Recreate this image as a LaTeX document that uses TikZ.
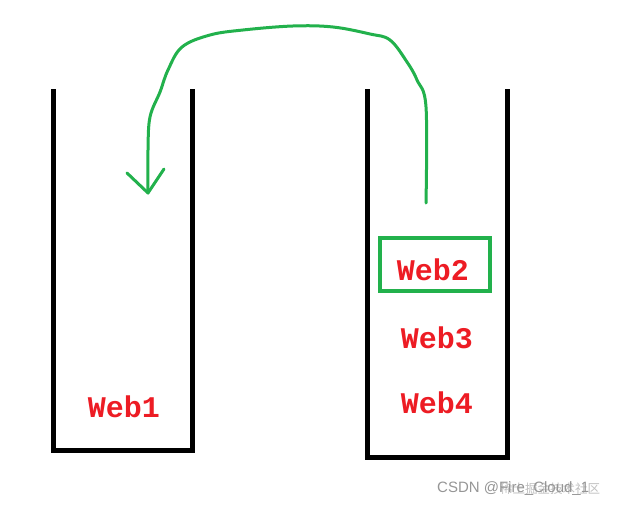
\documentclass[tikz,border=0pt]{standalone}
\usepackage{fontspec}
\setmainfont{Liberation Mono}
\newfontfamily\wmfont{Liberation Sans}
\newfontfamily\cjkwm{Noto Sans CJK SC}
\definecolor{pgreen}{RGB}{34,177,76}
\definecolor{pred}{RGB}{237,28,36}
\definecolor{wmgray}{RGB}{150,150,150}
\begin{document}
\begin{tikzpicture}[x=1pt,y=-1pt,
  wall/.style={line width=5pt, black, line cap=rect, line join=miter},
  weblabel/.style={text=pred, font=\fontsize{30}{30}\selectfont\bfseries, inner sep=0pt},
  mover/.style={line width=3pt, pgreen, line cap=round, line join=round},
  hilite/.style={draw=pgreen, line width=4pt, minimum width=110pt, minimum height=53pt, inner sep=0pt}]
\useasboundingbox[fill=white] (0,0) rectangle (618,508);
% containers
\draw[wall] (53,92) -- (53,450) -- (192,450) -- (192,92);
\draw[wall] (367,92) -- (367,457) -- (507,457) -- (507,92);
% labels
\node[weblabel] (w1) at (124,407) {Web1};
\node[hilite] (box) at (435,264.5) {};
\node[weblabel] (w2) at (433,270) {Web2};
\node[weblabel] (w3) at (437,338) {Web3};
\node[weblabel] (w4) at (437,403) {Web4};
% arrow
\coordinate (start) at (426,203);
\coordinate (tip) at (148,193);
\draw[mover] plot[smooth, tension=0.6] coordinates {(426,203) (426,107) (417,80) (407,62) (390,40) (370,34) (333,27) (293,26) (243,30) (210,35) (182,47) (168,70) (160,92) (150,117) (148,150) (148,193)};
\coordinate (la) at (127,173);
\coordinate (ra) at (164,169);
\draw[mover] (la) -- (tip) -- (ra);
% watermark
\node[text=wmgray, font=\wmfont\fontsize{15}{15}\selectfont, anchor=west, inner sep=0pt] (wm) at (437,489) {CSDN @Fire\_Cloud\_1};
\node[text=wmgray, opacity=0.6, font=\cjkwm\fontsize{12.5}{12.5}\selectfont, anchor=west, inner sep=0pt] (wmcn) at (500,489) {稀土掘金技术社区};
\end{tikzpicture}
\end{document}
